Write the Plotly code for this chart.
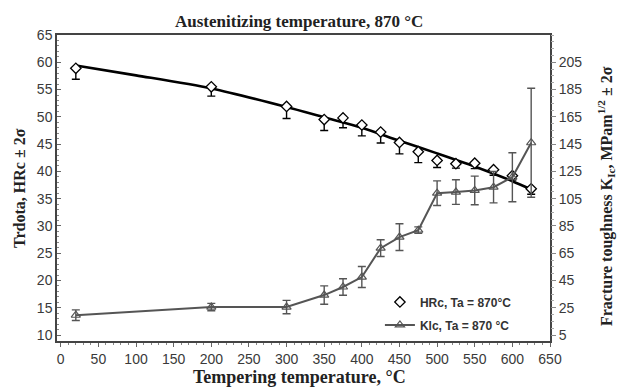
import plotly.graph_objects as go

# Tempering temperatures (°C)
temps = [20, 200, 300, 350, 375, 400, 425, 450, 475, 500, 525, 550, 575, 600, 625]

# Hardness HRc (left axis)
hrc = [58.9, 55.5, 51.9, 49.5, 49.8, 48.5, 47.2, 45.3, 43.6, 42.0, 41.4, 41.5, 40.3, 39.2, 36.8]
hrc_err_minus = [2.0, 1.7, 2.2, 2.0, 1.8, 2.0, 2.0, 2.1, 2.0, 1.3, 0.8, 1.0, 1.0, 0.8, 1.0]
hrc_err_plus = [0.0] * len(temps)

# Smoothed HRc trend line
fit_x = [20, 100, 200, 300, 350, 400, 450, 500, 550, 600, 625]
fit_y = [59.4, 57.6, 55.2, 51.8, 49.9, 48.0, 45.6, 43.3, 40.9, 38.2, 36.7]

# Fracture toughness KIc (right axis)
kic = [19.5, 25.5, 25.5, 34.3, 40.2, 47.5, 68.7, 76.8, 81.9, 109.0, 109.8, 111.0, 113.4, 120.7, 146.0]
kic_err = [3.9, 2.7, 4.9, 6.7, 6.1, 7.7, 6.1, 9.8, 2.4, 9.0, 9.0, 10.5, 11.5, 18.0, 40.0]

left_ticks = [10, 15, 20, 25, 30, 35, 40, 45, 50, 55, 60, 65]
right_ticks = [5, 25, 45, 65, 85, 105, 125, 145, 165, 185, 205]
x_ticks = [0, 50, 100, 150, 200, 250, 300, 350, 400, 450, 500, 550, 600, 650]

tick_font = dict(family="Liberation Sans, Arial, sans-serif", size=14, color="#3a3a3a")
serif_bold = "Liberation Serif, Times New Roman, serif"

fig = go.Figure()

fig.add_trace(go.Scatter(
    x=fit_x, y=fit_y, mode="lines",
    line=dict(color="black", width=2.6, shape="spline", smoothing=0.8),
    showlegend=False, hoverinfo="skip", legendgroup="fit",
))

fig.add_trace(go.Scatter(
    x=temps, y=kic, yaxis="y2", mode="lines+markers",
    name="<b>Klc, Ta = 870 °C</b>",
    line=dict(color="#555555", width=2),
    marker=dict(symbol="triangle-up-open", size=8, color="#555555", line=dict(width=1.2)),
    error_y=dict(type="data", array=kic_err, symmetric=True, color="#555555", thickness=1.4, width=4),
    legendgroup="kic", legendrank=2,
))

fig.add_trace(go.Scatter(
    x=temps, y=hrc, mode="markers",
    name="<b>HRc, Ta = 870°C</b>",
    marker=dict(symbol="diamond", size=8, color="white", line=dict(color="black", width=1.3)),
    error_y=dict(type="data", array=hrc_err_plus, arrayminus=hrc_err_minus, symmetric=False,
                 color="black", thickness=1.4, width=4),
    legendgroup="hrc", legendrank=1,
))

fig.update_layout(
    width=619, height=387,
    margin=dict(l=57, r=69, t=35, b=46),
    paper_bgcolor="white", plot_bgcolor="white",
    showlegend=True,
    legend=dict(
        x=0.655, y=0.175, xanchor="left", yanchor="top",
        bgcolor="rgba(0,0,0,0)", borderwidth=0,
        font=dict(family="Liberation Sans, Arial, sans-serif", size=12, color="#333333"),
        traceorder="grouped", tracegroupgap=4, itemwidth=30,
    ),
    xaxis=dict(
        range=[-5, 650], tickvals=x_ticks, ticktext=[str(v) for v in x_ticks],
        showline=True, linecolor="#444444", linewidth=1.5, mirror=True,
        ticks="outside", ticklen=4, tickcolor="#666666",
        minor=dict(dtick=10, ticks="outside", ticklen=2, tickcolor="#888888"),
        tickfont=tick_font, showgrid=False, zeroline=False,
    ),
    yaxis=dict(
        range=[8.9, 65.0], tickvals=left_ticks, ticktext=[str(v) for v in left_ticks],
        showline=True, linecolor="#444444", linewidth=1.5, mirror=True,
        ticks="inside", ticklen=4, tickcolor="#666666",
        minor=dict(dtick=1, ticks="inside", ticklen=2, tickcolor="#888888"),
        tickfont=tick_font, showgrid=False, zeroline=False,
    ),
    yaxis2=dict(
        range=[0.6, 225.0], overlaying="y", side="right",
        tickvals=right_ticks, ticktext=[str(v) for v in right_ticks],
        showline=False, ticks="outside", ticklen=5, tickcolor="#888888",
        minor=dict(dtick=5, ticks="outside", ticklen=3, tickcolor="#aaaaaa"),
        tickfont=tick_font, showgrid=False, zeroline=False,
    ),
    annotations=[
        dict(text="<b>Austenitizing temperature, 870 °C</b>", xref="paper", yref="paper",
             x=0.49, y=1.0, yshift=14, xanchor="center", yanchor="middle", showarrow=False,
             font=dict(family=serif_bold, size=17, color="#222222")),
        dict(text="<b>Tempering temperature, °C</b>", xref="paper", yref="paper",
             x=0.492, y=0.0, yshift=-36, xanchor="center", yanchor="middle", showarrow=False,
             font=dict(family=serif_bold, size=18, color="#222222")),
        dict(text="<b>Trdota, HRc ± 2σ</b>", xref="paper", yref="paper",
             x=0.0, y=0.5, xshift=-38, xanchor="center", yanchor="middle",
             textangle=-90, showarrow=False,
             font=dict(family=serif_bold, size=16, color="#222222")),
        dict(text="<b>Fracture toughness K<sub>Ic</sub>, MPam<sup>1/2</sup> ± 2σ</b>",
             xref="paper", yref="paper",
             x=1.0, y=0.5, yshift=-8, xshift=56, xanchor="center", yanchor="middle",
             textangle=-90, showarrow=False,
             font=dict(family=serif_bold, size=16, color="#222222")),
    ],
)

fig.write_html("out.html")
